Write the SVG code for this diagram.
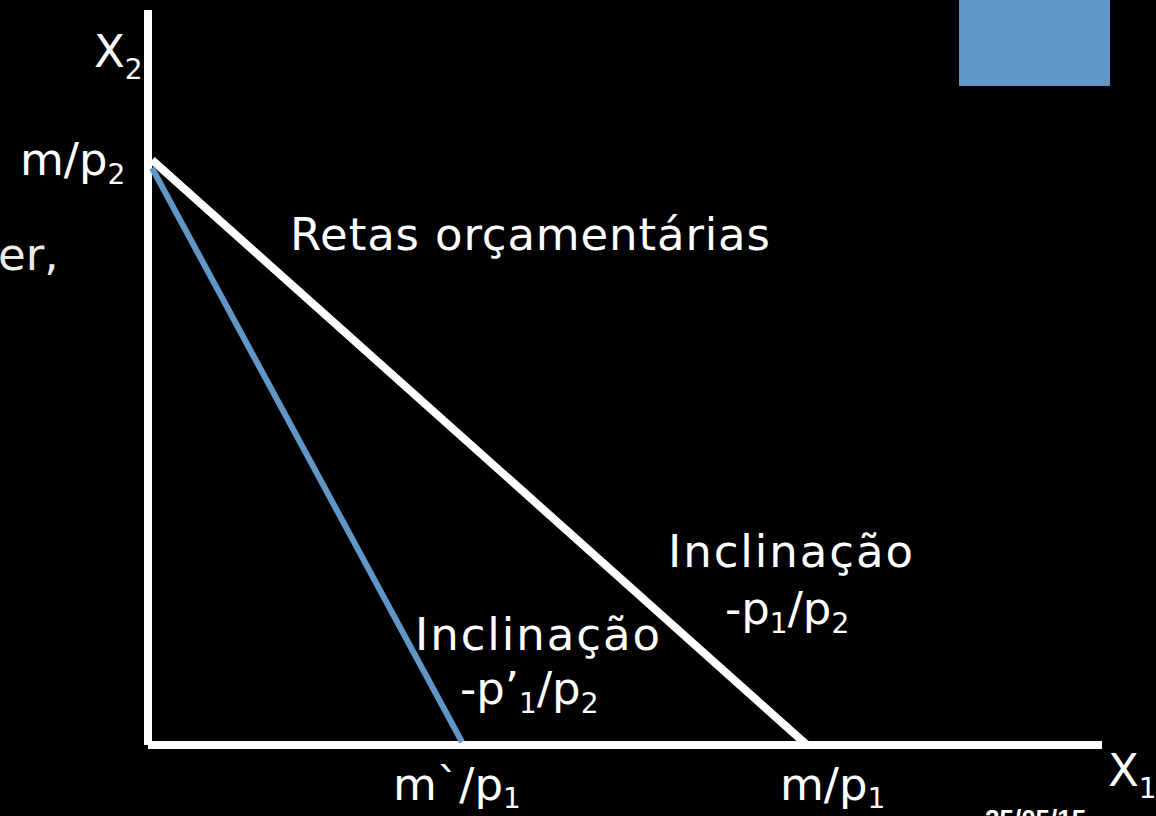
<svg xmlns="http://www.w3.org/2000/svg" width="1156" height="816" viewBox="0 0 1156 816">
<style>
.t{font-family:"DejaVu Sans","Liberation Sans",sans-serif;fill:#ffffff;font-size:45px}
.s{font-size:28px}
.ax{stroke:#ffffff;stroke-width:8;fill:none}
</style>
<rect x="0" y="0" width="1156" height="816" fill="#000000"/>
<rect id="corner-box" x="959" y="0" width="151" height="86" fill="#6196C8"/>
<text class="t" x="-2" y="270" style="fill:#EEEDE2">er,</text>
<g id="connectors">
<line class="ax" x1="148" y1="10" x2="148" y2="745"/>
<line class="ax" x1="148" y1="745" x2="1102" y2="745"/>
<line x1="152" y1="160" x2="807" y2="745" stroke="#ffffff" stroke-width="8"/>
<line x1="152" y1="168" x2="462" y2="742" stroke="#6196C8" stroke-width="6"/>
</g>
<g id="label-x2"><text class="t" x="94" y="67">X<tspan class="s" dy="12">2</tspan></text></g>
<g id="label-mp2"><text class="t" x="20" y="175">m/p<tspan class="s" dy="9">2</tspan></text></g>
<g id="label-retas"><text class="t" x="290" y="250" textLength="480">Retas orçamentárias</text></g>
<g id="label-incl1"><text class="t" x="668" y="567" textLength="245">Inclinação</text><text class="t" x="725" y="624">-p<tspan class="s" dy="9">1</tspan><tspan dy="-9">/p</tspan><tspan class="s" dy="9">2</tspan></text></g>
<g id="label-incl2"><text class="t" x="415" y="650" textLength="245">Inclinação</text><text class="t" x="460" y="704">-p’<tspan class="s" dy="9">1</tspan><tspan dy="-9">/p</tspan><tspan class="s" dy="9">2</tspan></text></g>
<g id="label-m2p1"><text class="t" x="393" y="800">m`/p<tspan class="s" dy="8">1</tspan></text></g>
<g id="label-mp1"><text class="t" x="780" y="800">m/p<tspan class="s" dy="8">1</tspan></text></g>
<g id="label-x1"><text class="t" x="1108" y="786">X<tspan class="s" dy="12">1</tspan></text></g>
<text x="0" y="830" style="font-family:'Liberation Sans',sans-serif;font-weight:bold;font-style:italic;font-size:26px;fill:#ffffff">xos</text>
<text x="985" y="828" style="font-family:'Liberation Sans',sans-serif;font-weight:bold;font-size:26px;fill:#ffffff">25/05/15</text>
</svg>
